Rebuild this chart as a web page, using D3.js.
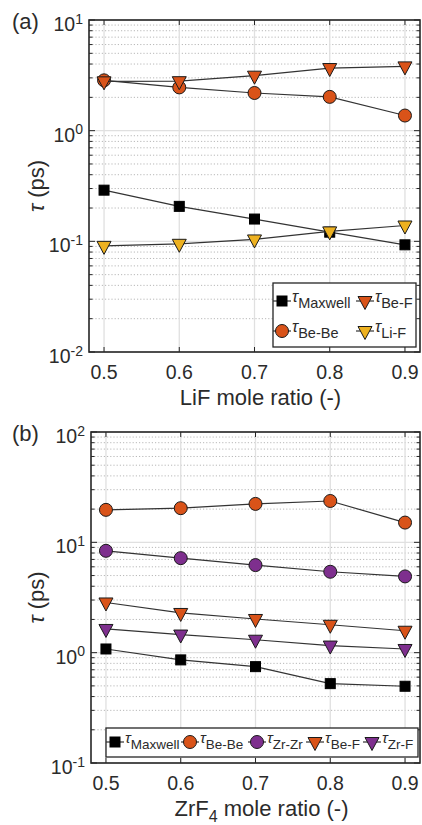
<!DOCTYPE html>
<html>
<head>
<meta charset="utf-8">
<script src="https://cdn.jsdelivr.net/npm/d3@7/dist/d3.min.js"></script>
<style>
body { margin: 0; background: #fff; }
text { font-family: "Liberation Sans", Arial, Helvetica, sans-serif; fill: #2b2b2b; }
</style>
</head>
<body>
<div id="chart"></div>
<script>
// data
var moleRatio = [0.5, 0.6, 0.7, 0.8, 0.9];

// (a) LiF series
var lifMaxwell = [0.29, 0.207, 0.159, 0.121, 0.093];
var lifBeBe = [2.85, 2.46, 2.19, 2.02, 1.37];
var lifBeF = [2.79, 2.8, 3.14, 3.68, 3.81];
var lifLiF = [0.091, 0.095, 0.104, 0.123, 0.139];

// (b) ZrF4 series
var zrMaxwell = [1.08, 0.86, 0.747, 0.524, 0.496];
var zrBeBe = [19.7, 20.4, 22.3, 23.7, 15.1];
var zrZrZr = [8.38, 7.19, 6.22, 5.41, 4.91];
var zrBeF = [2.85, 2.29, 2.02, 1.79, 1.58];
var zrZrF = [1.64, 1.46, 1.31, 1.16, 1.08];

var xTickVals = [0.5, 0.6, 0.7, 0.8, 0.9];
var yExpA = [-2, -1, 0, 1];
var yExpB = [-1, 0, 1, 2];

var orange = "#D95319", yellow = "#EDB120", purple = "#7E2F8E";

var svgWidth = 422, svgHeight = 825;
var svg = d3.select("#chart").append("svg")
    .attr("width", svgWidth).attr("height", svgHeight);

function drawMarker(g, shape, fill) {
    if (shape === "square") {
        g.append("rect").attr("x", -5).attr("y", -5).attr("width", 10).attr("height", 10)
            .attr("fill", fill).attr("stroke", "#000").attr("stroke-width", 1);
    } else if (shape === "circle") {
        g.append("circle").attr("r", 6.5)
            .attr("fill", fill).attr("stroke", "#1a1a1a").attr("stroke-width", 1);
    } else {
        g.append("path").attr("d", "M-7,-4.5L7,-4.5L0,8.5Z")
            .attr("fill", fill).attr("stroke", "#1a1a1a").attr("stroke-width", 1)
            .attr("stroke-linejoin", "miter");
    }
}

// tau with subscript
function tauLabel(sel, sub, size) {
    sel.append("tspan").attr("font-style", "italic").attr("font-size", size + 2).text("τ");
    sel.append("tspan").attr("font-size", size).attr("dy", 6).text(sub);
}

function drawPanel(p) {
    var x = d3.scaleLinear().domain([0.48, 0.92]).range([p.left, p.right]);
    var y = d3.scaleLog().domain([Math.pow(10, p.yExp[0]), Math.pow(10, p.yExp[p.yExp.length - 1])])
        .range([p.bottom, p.top]);
    var g = svg.append("g");

    // minor grid (dotted)
    var minor = [];
    p.yExp.slice(0, -1).forEach(function(e) {
        for (var k = 2; k <= 9; k++) minor.push(k * Math.pow(10, e));
    });
    g.selectAll(".minor").data(minor).enter().append("line")
        .attr("x1", p.left).attr("x2", p.right)
        .attr("y1", d => y(d)).attr("y2", d => y(d))
        .attr("stroke", "#b8b8b8").attr("stroke-width", 1).attr("stroke-dasharray", "1.2,2");

    // major grid
    g.selectAll(".gx").data(xTickVals).enter().append("line")
        .attr("x1", d => x(d)).attr("x2", d => x(d))
        .attr("y1", p.top).attr("y2", p.bottom)
        .attr("stroke", "#e0e0e0").attr("stroke-width", 1.3);
    g.selectAll(".gy").data(p.yExp).enter().append("line")
        .attr("x1", p.left).attr("x2", p.right)
        .attr("y1", d => y(Math.pow(10, d))).attr("y2", d => y(Math.pow(10, d)))
        .attr("stroke", "#e0e0e0").attr("stroke-width", 1.3);

    // series
    var line = d3.line().x((d, i) => x(moleRatio[i])).y(d => y(d));
    p.series.forEach(function(s) {
        g.append("path").datum(s.values).attr("d", line)
            .attr("fill", "none").attr("stroke", "#333").attr("stroke-width", 1.2);
        s.values.forEach(function(v, i) {
            var m = g.append("g").attr("transform", `translate(${x(moleRatio[i])},${y(v)})`);
            drawMarker(m, s.shape, s.fill);
        });
    });

    // ticks, inward on all sides
    var ticks = g.append("g").attr("stroke", "#262626").attr("stroke-width", 1);
    xTickVals.forEach(function(d) {
        ticks.append("line").attr("x1", x(d)).attr("x2", x(d)).attr("y1", p.bottom).attr("y2", p.bottom - 5);
        ticks.append("line").attr("x1", x(d)).attr("x2", x(d)).attr("y1", p.top).attr("y2", p.top + 5);
    });
    p.yExp.forEach(function(e) {
        var yy = y(Math.pow(10, e));
        ticks.append("line").attr("x1", p.left).attr("x2", p.left + 6).attr("y1", yy).attr("y2", yy);
        ticks.append("line").attr("x1", p.right).attr("x2", p.right - 6).attr("y1", yy).attr("y2", yy);
    });
    minor.forEach(function(d) {
        var yy = y(d);
        ticks.append("line").attr("x1", p.left).attr("x2", p.left + 3.5).attr("y1", yy).attr("y2", yy);
        ticks.append("line").attr("x1", p.right).attr("x2", p.right - 3.5).attr("y1", yy).attr("y2", yy);
    });

    // box
    g.append("rect").attr("x", p.left).attr("y", p.top)
        .attr("width", p.right - p.left).attr("height", p.bottom - p.top)
        .attr("fill", "none").attr("stroke", "#262626").attr("stroke-width", 1.6);

    // x tick labels
    g.selectAll(".xl").data(xTickVals).enter().append("text")
        .attr("x", d => x(d)).attr("y", p.bottom + 27)
        .attr("text-anchor", "middle").attr("font-size", 19.5)
        .text(d => d.toFixed(1));

    // y tick labels 10^n
    p.yExp.forEach(function(e) {
        var t = g.append("text").attr("x", p.left - 6).attr("y", y(Math.pow(10, e)) + 11)
            .attr("text-anchor", "end");
        t.append("tspan").attr("font-size", 19.5).text("10");
        t.append("tspan").attr("font-size", 14).attr("dy", -7.5).text(e < 0 ? "-" + (-e) : e);
    });

    // axis labels
    var xl = g.append("text").attr("x", (p.left + p.right) / 2 + 6).attr("y", p.bottom + 53)
        .attr("text-anchor", "middle").attr("font-size", 22);
    p.xLabel(xl);

    var yl = g.append("text")
        .attr("transform", `translate(44,${(p.top + p.bottom) / 2}) rotate(-90)`)
        .attr("text-anchor", "middle").attr("font-size", 22);
    yl.append("tspan").attr("font-style", "italic").text("τ");
    yl.append("tspan").text(" (ps)");

    // panel letter
    g.append("text").attr("x", 12).attr("y", p.top + 8.5).attr("font-size", 22).text(p.letter);

    // legend
    var lg = p.legend;
    var lgG = g.append("g");
    lgG.append("rect").attr("x", lg.x).attr("y", lg.y).attr("width", lg.w).attr("height", lg.h)
        .attr("fill", "#fff").attr("stroke", "#262626").attr("stroke-width", 1.3);
    lg.items.forEach(function(it) {
        var item = lgG.append("g").attr("transform", `translate(${it.dx},${it.dy})`);
        item.append("line").attr("x1", -9).attr("x2", 9).attr("stroke", "#333").attr("stroke-width", 1.2);
        drawMarker(item, it.s.shape, it.s.fill);
        var t = item.append("text").attr("x", 10).attr("y", 1);
        tauLabel(t, it.s.name, lg.fontSize);
    });
}

// (a)
var sMaxA = {values: lifMaxwell, shape: "square", fill: "#000", name: "Maxwell"};
var sBeBeA = {values: lifBeBe, shape: "circle", fill: orange, name: "Be-Be"};
var sBeFA = {values: lifBeF, shape: "tri", fill: orange, name: "Be-F"};
var sLiFA = {values: lifLiF, shape: "tri", fill: yellow, name: "Li-F"};

drawPanel({
    left: 89, right: 420, top: 20, bottom: 352,
    yExp: yExpA, letter: "(a)",
    series: [sMaxA, sBeBeA, sBeFA, sLiFA],
    xLabel: function(t) { t.text("LiF mole ratio (-)"); },
    legend: {
        x: 273, y: 283, w: 143, h: 64, fontSize: 14.5,
        items: [
            {s: sMaxA, dx: 282, dy: 301},
            {s: sBeBeA, dx: 282, dy: 331},
            {s: sBeFA, dx: 365, dy: 301},
            {s: sLiFA, dx: 365, dy: 331}
        ]
    }
});

// (b)
var sMaxB = {values: zrMaxwell, shape: "square", fill: "#000", name: "Maxwell"};
var sBeBeB = {values: zrBeBe, shape: "circle", fill: orange, name: "Be-Be"};
var sZrZrB = {values: zrZrZr, shape: "circle", fill: purple, name: "Zr-Zr"};
var sBeFB = {values: zrBeF, shape: "tri", fill: orange, name: "Be-F"};
var sZrFB = {values: zrZrF, shape: "tri", fill: purple, name: "Zr-F"};

drawPanel({
    left: 91, right: 420, top: 432, bottom: 763,
    yExp: yExpB, letter: "(b)",
    series: [sMaxB, sBeBeB, sZrZrB, sBeFB, sZrFB],
    xLabel: function(t) {
        t.append("tspan").text("ZrF");
        t.append("tspan").attr("font-size", 16).attr("dy", 6).text("4");
        t.append("tspan").attr("dy", -6).text(" mole ratio (-)");
    },
    legend: {
        x: 106, y: 728, w: 312, h: 29, fontSize: 13.5,
        items: [
            {s: sMaxB, dx: 115, dy: 742},
            {s: sBeBeB, dx: 190, dy: 742},
            {s: sZrZrB, dx: 257, dy: 742},
            {s: sBeFB, dx: 315, dy: 742},
            {s: sZrFB, dx: 372, dy: 742}
        ]
    }
});
</script>
</body>
</html>
